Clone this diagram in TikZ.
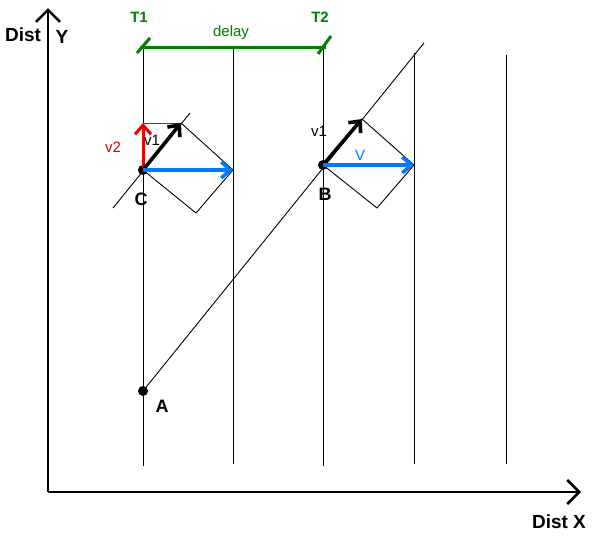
\documentclass[tikz,border=0pt]{standalone}
\usepackage{fontspec}
\setmainfont{Liberation Sans}
\usetikzlibrary{arrows.meta}
\definecolor{dgreen}{RGB}{0,128,0}
\definecolor{vblue}{RGB}{0,122,255}
\definecolor{vred}{RGB}{230,0,0}
\begin{document}
\begin{tikzpicture}[x=1pt,y=-1pt,
  thin line/.style={line width=0.9pt},
  axis/.style={line width=2.6pt,-{Straight Barb[length=12pt,width=24pt]}},
  vec/.style={line width=3.6pt,-{Straight Barb[length=9pt,width=16pt]}},
  dot/.style={circle,fill=black,inner sep=0pt,minimum size=10pt},
  bigl/.style={font=\bfseries\fontsize{19}{19}\selectfont},
  ptl/.style={font=\bfseries\fontsize{18}{18}\selectfont},
  tl/.style={font=\bfseries\fontsize{15}{15}\selectfont,text=dgreen},
  vl/.style={font=\fontsize{15}{15}\selectfont}
]
\useasboundingbox (0,0) rectangle (604,541);
% axes
\coordinate (O) at (48,492);
\coordinate (Ytop) at (48,8);
\coordinate (Xend) at (581,492);
\draw[axis] (O) -- (Ytop);
\draw[axis] (O) -- (Xend);
% vertical lines
\foreach \n/\x/\t/\b in {1/143/48/466,2/233/48/464,3/323/48/466,4/414/53/464,5/506/55/464}{
  \coordinate (v\n t) at (\x,\t);
  \coordinate (v\n b) at (\x,\b);
  \draw[thin line] (v\n t) -- (v\n b);
}
% points
\node[dot] (A) at (143,391) {};
\node[dot] (B) at (323,165) {};
\node[dot] (C) at (143,170) {};
% long diagonal
\coordinate (Dtop) at (424,43);
\draw[thin line] (A.center) -- (Dtop);
% short diagonal at C
\coordinate (Cdl) at (113,208);
\coordinate (Cdu) at (190,113);
\draw[thin line] (Cdl) -- (Cdu);
% diamonds
\coordinate (Cv1) at (181,123);
\coordinate (Cr) at (233,170);
\coordinate (Cb) at (196,213);
\draw[thin line] (C.center) -- (Cv1) -- (Cr) -- (Cb) -- cycle;
\coordinate (Bv1) at (362,119);
\coordinate (Br) at (414,165);
\coordinate (Bb) at (377,208);
\draw[thin line] (B.center) -- (Bv1) -- (Br) -- (Bb) -- cycle;
% red v2
\coordinate (Cv2) at (143,123);
\draw[vred,thin line] (Cv2) -- (Cv1);
\draw[vred,vec,line width=3pt] (C.center) -- (Cv2);
% vectors
\draw[vec] (C.center) -- (Cv1);
\draw[vec,vblue] (C.center) -- (Cr);
\draw[vec] (B.center) -- (Bv1);
\draw[vec,vblue] (B.center) -- (Br);
% delay bar
\coordinate (G1) at (140,47);
\coordinate (G2) at (326,47);
\draw[dgreen,line width=3pt] (G1) -- (G2);
\coordinate (G1a) at (137,53); \coordinate (G1b) at (150,38);
\coordinate (G2a) at (318,54); \coordinate (G2b) at (331,36);
\draw[dgreen,line width=3pt] (G1a) -- (G1b);
\draw[dgreen,line width=3pt] (G2a) -- (G2b);
% labels
\node[bigl] (ldist) at (23,35) {Dist};
\node[bigl] (ly) at (62,37) {Y};
\node[bigl] (lx) at (559,522) {Dist X};
\node[tl] (lt1) at (139,17) {T1};
\node[tl] (lt2) at (320,17) {T2};
\node[tl,font=\fontsize{15}{15}\selectfont] (ldelay) at (231,33) {delay};
\node[ptl] (lc) at (141,199) {C};
\node[ptl] (lb) at (325,194) {B};
\node[ptl] (la) at (162,406) {A};
\node[vl,text=vred] (lv2) at (113,147) {v2};
\node[vl] (lv1c) at (152,140) {v1};
\node[vl] (lv1b) at (319,131) {v1};
\node[vl,text=vblue] (lV) at (360,155) {V};
\end{tikzpicture}
\end{document}
